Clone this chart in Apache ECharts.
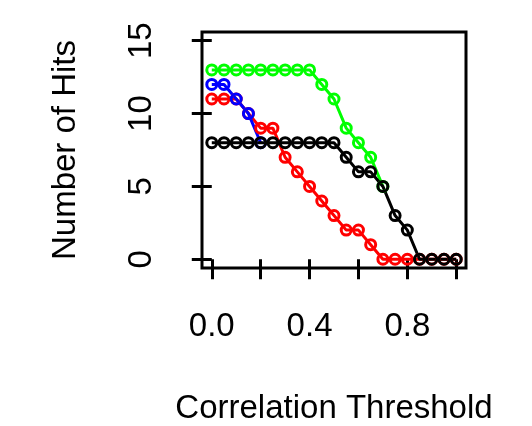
<!DOCTYPE html>
<html>
<head>
<meta charset="utf-8">
<script src="https://cdn.jsdelivr.net/npm/echarts@6/dist/echarts.min.js"></script>
<style>
html,body{margin:0;padding:0;background:#fff;}
#chart{width:532px;height:426px;}
</style>
</head>
<body>
<div id="chart"></div>
<script>
var thresholds = [0, 0.05, 0.1, 0.15, 0.2, 0.25, 0.3, 0.35, 0.4, 0.45, 0.5, 0.55, 0.6, 0.65, 0.7, 0.75, 0.8, 0.85, 0.9, 0.95, 1.0];
var blueHits  = [12, 12, 11, 10, 8];
var redHits   = [11, 11, 11, 10, 9, 9, 7, 6, 5, 4, 3, 2, 2, 1, 0, 0, 0, 0, 0, 0, 0];
var greenHits = [13, 13, 13, 13, 13, 13, 13, 13, 13, 12, 11, 9, 8, 7, 5];
var blackHits = [8, 8, 8, 8, 8, 8, 8, 8, 8, 8, 8, 7, 6, 6, 5, 3, 2, 0, 0, 0, 0];
var xTickValues = [0, 0.2, 0.4, 0.6, 0.8, 1.0];
var xLabelValues = [0, 0.4, 0.8];
var yTickValues = [0, 5, 10, 15];

function pairs(vals) {
  return vals.map(function (v, i) { return [thresholds[i], v]; });
}
var FONT = '"Liberation Sans", Arial, sans-serif';
function mk(name, vals, color) {
  return {
    name: name, type: 'line', data: pairs(vals),
    symbol: 'circle', symbolSize: 10,
    lineStyle: { color: color, width: 3 },
    itemStyle: { color: 'rgba(0,0,0,0)', borderColor: color, borderWidth: 3 },
    emphasis: { disabled: true },
    animation: false
  };
}
var chart = echarts.init(document.getElementById('chart'));
chart.setOption({
  backgroundColor: '#fff',
  animation: false,
  grid: { left: 202, right: 66, top: 32, bottom: 158, containLabel: false, outerBoundsMode: 'none',
    show: true, borderColor: '#000', borderWidth: 3, backgroundColor: 'transparent' },
  xAxis: {
    type: 'value', min: -0.04, max: 1.04,
    name: 'Correlation Threshold', nameLocation: 'middle', nameGap: 124,
    nameTextStyle: { fontFamily: FONT, fontSize: 33, color: '#000' },
    axisLine: { show: false },
    splitLine: { show: false },
    axisTick: { show: true, inside: false, length: 20, customValues: xTickValues, lineStyle: { color: '#000', width: 3 } },
    axisLabel: { customValues: xLabelValues, margin: 42, fontFamily: FONT, fontSize: 33, color: '#000',
      formatter: function (v) { return v.toFixed(1); } }
  },
  yAxis: {
    type: 'value', min: -0.6, max: 15.6,
    name: 'Number of Hits', nameLocation: 'middle', nameGap: 120, nameRotate: 90,
    nameTextStyle: { fontFamily: FONT, fontSize: 33, color: '#000' },
    axisLine: { show: false },
    splitLine: { show: false },
    axisTick: { show: true, inside: false, length: 20, customValues: yTickValues, lineStyle: { color: '#000', width: 3 } },
    axisLabel: { customValues: yTickValues, rotate: 90, margin: 44, fontFamily: FONT, fontSize: 33, color: '#000',
      formatter: function (v) { return String(Math.round(v)); } }
  },
  series: [
    mk('red', redHits, '#ff0000'),
    mk('blue', blueHits, '#0000ff'),
    mk('green', greenHits, '#00ff00'),
    mk('black', blackHits, '#000000')
  ]
});
</script>
</body>
</html>
